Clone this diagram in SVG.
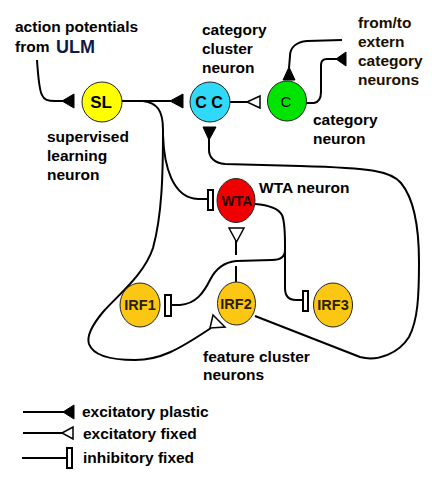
<svg xmlns="http://www.w3.org/2000/svg" width="436" height="486" viewBox="0 0 436 486">
<style>
text{font-family:"Liberation Sans",Arial,sans-serif;font-weight:bold;font-size:15.5px;fill:#000}
.node{stroke:#222;stroke-width:1}
.nt{font-size:14px;text-anchor:middle}
.ln{fill:none;stroke:#000;stroke-width:2;stroke-linecap:butt;stroke-linejoin:round}
.fa{fill:#000;stroke:#000;stroke-width:1}
.oa{fill:#fff;stroke:#000;stroke-width:1.5}
.ih{fill:#fff;stroke:#000;stroke-width:2}
</style>
<rect width="436" height="486" fill="#fff"/>

<g id="connectors">
  <!-- ULM input to SL -->
  <path class="ln" d="M37 60 C38 75 39 90 42 95 C44 100 48 101 55 101 L63 101"/>
  <polygon class="fa" points="62,101 74,94 74,108"/>
  <!-- SL to CC -->
  <path class="ln" d="M122 101 L171 101"/>
  <polygon class="fa" points="170,101 183,94 183,108"/>
  <!-- CC to C -->
  <path class="ln" d="M229 102 L248 102"/>
  <polygon class="oa" points="247,102 260,96 260,108"/>
  <!-- extern to C -->
  <path class="ln" d="M342 40 L307 41 C297 42 290 47 290 56 L289 68"/>
  <polygon class="fa" points="289,67 283,80 295,80"/>
  <!-- C to extern -->
  <path class="ln" d="M305 103 L314 103 C319 102 321 98 321 92 L321 65 C321 61 323 59 327 59 L337 59"/>
  <polygon class="fa" points="336,59 346,52 346,66"/>
  <!-- SL to IRF2 (left loop) -->
  <path class="ln" d="M143 101 C157 103 163 110 163 130 C163 175 162 215 153 248 C144 275 118 295 103 312 C93 324 86 335 89 344 C93 355 110 360 135 360 C160 360 178 350 211 328"/>
  <polygon class="oa" points="210,328 213,315 225,327"/>
  <!-- SL to WTA (inhibitory) -->
  <path class="ln" d="M163 135 C164 165 172 198 198 199 L208 199"/>
  <rect class="ih" x="208" y="190" width="5" height="20"/>
  <!-- IRF2 to CC (right loop) -->
  <path class="ln" d="M255 316 L360 357 C378 362 399 353 409 337 C418 320 419 295 419 262 C419 228 415 200 401 183 C391 171 372 168 300 166 L225 164 C214 163 209 157 209 150 L209 139"/>
  <polygon class="fa" points="209,140 203,127 216,127"/>
  <!-- WTA to IRF1 / IRF3 -->
  <path class="ln" d="M255 204 C268 205 278 208 282 215 C285 222 285 232 285 245 L285 250 C285 257 281 260 272 260 L236 261 C226 262 216 268 210 280 C204 292 196 304 180 305 L171 305"/>
  <rect class="ih" x="165" y="295" width="6" height="21"/>
  <path class="ln" d="M285 248 L285 288 C285 296 289 300 296 300 L303 300"/>
  <rect class="ih" x="303" y="291" width="5" height="20"/>
  <!-- IRF2 to WTA -->
  <path class="ln" d="M236 282 L236 266 M236 255 L236 241"/>
  <polygon class="oa" points="229,228 244,228 236.5,242"/>
</g>

<g id="SL">
  <ellipse class="node" cx="102" cy="102" rx="20" ry="20" fill="#ffff00"/>
  <text class="nt" x="101" y="108" style="font-size:17px">SL</text>
</g>
<g id="CC">
  <ellipse class="node" cx="210" cy="102" rx="20" ry="20" fill="#2fd9f7"/>
  <text class="nt" x="209" y="108" style="font-size:16px">C C</text>
</g>
<g id="C">
  <ellipse class="node" cx="287" cy="101" rx="19.5" ry="20" fill="#00e400"/>
  <text class="nt" x="286" y="107" style="font-size:15px;font-weight:normal">C</text>
</g>
<g id="WTA">
  <ellipse class="node" cx="236" cy="200.5" rx="19" ry="22" fill="#f00000"/>
  <text class="nt" x="237" y="206" style="font-size:14px;fill:#2a0000">WTA</text>
</g>
<g id="IRF1">
  <ellipse class="node" cx="140" cy="305" rx="20" ry="22" fill="#fcc712"/>
  <text class="nt" x="140" y="310" style="font-size:14.5px;fill:#2a1e00">IRF1</text>
</g>
<g id="IRF2">
  <ellipse class="node" cx="236.5" cy="303.5" rx="19" ry="21.5" fill="#fcc712"/>
  <text class="nt" x="236" y="309" style="font-size:14.5px;fill:#2a1e00">IRF2</text>
</g>
<g id="IRF3">
  <ellipse class="node" cx="333" cy="305" rx="19.5" ry="22" fill="#fcc712"/>
  <text class="nt" x="333" y="310" style="font-size:14.5px;fill:#2a1e00">IRF3</text>
</g>

<g id="labels">
  <text x="15" y="32">action potentials</text>
  <text x="15" y="52">from</text>
  <text x="56" y="53" style="font-size:18px;fill:#0d1b45">ULM</text>
  <text x="202" y="35">category</text>
  <text x="202" y="54">cluster</text>
  <text x="202" y="73">neuron</text>
  <text x="358" y="28" style="fill:#1a0f00">from/to</text>
  <text x="358" y="47" style="fill:#1a0f00">extern</text>
  <text x="358" y="66" style="fill:#1a0f00">category</text>
  <text x="358" y="85" style="fill:#1a0f00">neurons</text>
  <text x="313" y="125">category</text>
  <text x="313" y="144">neuron</text>
  <text x="47" y="142">supervised</text>
  <text x="47" y="161">learning</text>
  <text x="47" y="180">neuron</text>
  <text x="259" y="193">WTA neuron</text>
  <text x="203" y="362">feature cluster</text>
  <text x="203" y="380">neurons</text>
</g>

<g id="legend">
  <path class="ln" d="M23 412 L64 412"/>
  <polygon class="fa" points="63,412 74,405 74,419"/>
  <text x="82" y="417">excitatory plastic</text>
  <path class="ln" d="M23 433 L63 433"/>
  <polygon class="oa" points="62,433 73,427 73,439"/>
  <text x="83" y="439">excitatory fixed</text>
  <path class="ln" d="M22 458 L66 458"/>
  <rect class="ih" x="67" y="448" width="5" height="20"/>
  <text x="83" y="463">inhibitory fixed</text>
</g>
</svg>
